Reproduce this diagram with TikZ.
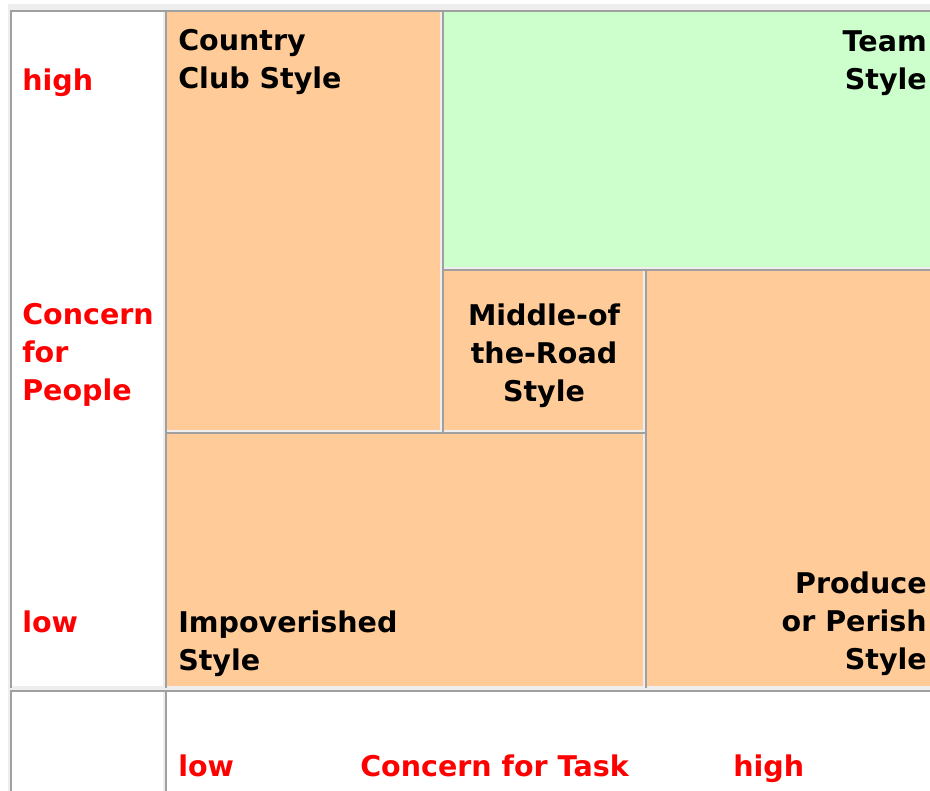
\documentclass[tikz,border=0pt]{standalone}
\usepackage{fontspec}
\setmainfont{DejaVu Sans}
\definecolor{orangecell}{HTML}{FFCC99}
\definecolor{greencell}{HTML}{CCFFCC}
\definecolor{bordergray}{HTML}{A0A0A0}
\definecolor{borderlight}{HTML}{EEEEEE}
\definecolor{labelred}{HTML}{FF0000}
\newcommand{\gridcell}[5]{%
  \fill[#5] (#1+2,#2+2) rectangle (#3-2,#4-2);
  \fill[bordergray] (#1,#2) rectangle (#3,#2+2);
  \fill[bordergray] (#1,#2) rectangle (#1+2,#4);
  \fill[borderlight] (#1+2,#4-2) rectangle (#3,#4);
  \fill[borderlight] (#3-2,#2+2) rectangle (#3,#4);
}
\begin{document}
\begin{tikzpicture}[x=0.75pt,y=-0.75pt,
  lbl/.style={font=\fontsize{21.4}{28}\selectfont\bfseries, inner sep=0pt},
  redlbl/.style={lbl, text=labelred, anchor=base west},
  blklbl/.style={lbl, text=black}]
\useasboundingbox (0,0) rectangle (930,791);
\fill[white] (0,0) rectangle (930,791);
\fill[borderlight] (8,4) rectangle (935,795);
% upper table
\gridcell{10}{10}{165}{688}{white}
\gridcell{165}{10}{442}{432}{orangecell}
\gridcell{442}{10}{935}{269}{greencell}
\gridcell{442}{269}{645}{432}{orangecell}
\gridcell{165}{432}{645}{688}{orangecell}
\gridcell{645}{269}{935}{688}{orangecell}
% lower table
\gridcell{10}{690}{165}{795}{white}
\gridcell{165}{690}{935}{795}{white}
% axis labels
\node[redlbl] (phigh) at (22,91) {high};
\node[redlbl] (cp1) at (22,324) {Concern};
\node[redlbl] (cp2) at (22,362) {for};
\node[redlbl] (cp3) at (22,400) {People};
\node[redlbl] (plow) at (22,632) {low};
\node[redlbl] (tlow) at (178,776) {low};
\node[redlbl] (ctask) at (360,776) {Concern for Task};
\node[redlbl] (thigh) at (733,776) {high};
% styles
\node[blklbl, anchor=base west] (cc1) at (178,51) {Country};
\node[blklbl, anchor=base west] (cc2) at (178,89) {Club Style};
\node[blklbl, anchor=base east] (ts1) at (927,52) {Team};
\node[blklbl, anchor=base east] (ts2) at (927,90) {Style};
\node[blklbl, anchor=base] (mr1) at (544,325) {Middle-of};
\node[blklbl, anchor=base] (mr2) at (544,363) {the-Road};
\node[blklbl, anchor=base] (mr3) at (544,401) {Style};
\node[blklbl, anchor=base west] (im1) at (178,632) {Impoverished};
\node[blklbl, anchor=base west] (im2) at (178,670) {Style};
\node[blklbl, anchor=base east] (pp1) at (927,593) {Produce};
\node[blklbl, anchor=base east] (pp2) at (927,631) {or Perish};
\node[blklbl, anchor=base east] (pp3) at (927,669) {Style};
\end{tikzpicture}
\end{document}
